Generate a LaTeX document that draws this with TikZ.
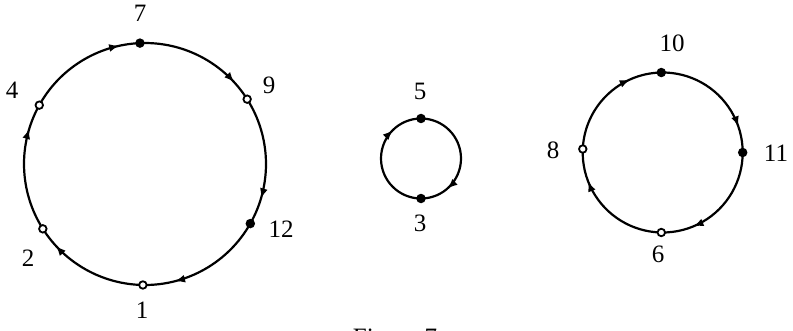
\documentclass[tikz,border=0pt]{standalone}
\usepackage{fontspec}
\setmainfont{Liberation Serif}
\usetikzlibrary{arrows.meta,decorations.markings,backgrounds,calc}
\tikzset{
  x=1pt,y=1pt,
  arcline/.style={line width=2.2pt},
  midarrow/.style={postaction={decorate},decoration={markings,
    mark=at position #1 with {\arrow{Latex[length=10pt,width=8pt]}}}},
  fdot/.style={circle,fill=black,inner sep=0pt,minimum size=9.5pt},
  odot/.style={circle,draw=black,fill=white,line width=1.8pt,inner sep=0pt,minimum size=7.5pt},
  lab/.style={font=\fontsize{25}{28}\selectfont,inner sep=0pt}
}
\begin{document}
\begin{tikzpicture}
\useasboundingbox (0,0) rectangle (793,330);
% ---- big circle: centre (145,166), r = 121
\coordinate (cA) at (145,166);
\node[fdot] (n7)  at ($(cA)+(92.4:121)$) {};
\node[odot] (n9)  at ($(cA)+(32.4:121)$) {};
\node[fdot] (n12) at ($(cA)+(-29.5:121)$) {};
\node[odot] (n1)  at ($(cA)+(-91:121)$) {};
\node[odot] (n2)  at ($(cA)+(-147.6:121)$) {};
\node[odot] (n4)  at ($(cA)+(150.9:121)$) {};
\begin{scope}[on background layer]
\draw[arcline,midarrow=0.83]  (n7.center)  arc[start angle=92.4,  end angle=32.4,   radius=121];
\draw[arcline,midarrow=0.79]  (n9.center)  arc[start angle=32.4,  end angle=-29.5,  radius=121];
\draw[arcline,midarrow=0.75]  (n12.center) arc[start angle=-29.5, end angle=-91,    radius=121];
\draw[arcline,midarrow=0.82]  (n1.center)  arc[start angle=-91,   end angle=-147.6, radius=121];
\draw[arcline,midarrow=0.80]  (n2.center)  arc[start angle=-147.6,end angle=-209.1, radius=121];
\draw[arcline,midarrow=0.83]  (n4.center)  arc[start angle=150.9, end angle=92.4,   radius=121];
\end{scope}
\node[lab] (l7)  at (140,317) {7};
\node[lab] (l9)  at (269,245) {9};
\node[lab] (l12) at (281,101) {12};
\node[lab] (l1)  at (142,20)  {1};
\node[lab] (l2)  at (28,72)   {2};
\node[lab] (l4)  at (12,240)  {4};
% ---- small circle: centre (421,171.5), r = 40
\coordinate (cB) at (421,171.5);
\node[fdot] (n5) at ($(cB)+(90:40)$) {};
\node[fdot] (n3) at ($(cB)+(-90:40)$) {};
\begin{scope}[on background layer]
\draw[arcline,midarrow=0.77] (n5.center) arc[start angle=90,  end angle=-90,  radius=40];
\draw[arcline,midarrow=0.75] (n3.center) arc[start angle=-90, end angle=-270, radius=40];
\end{scope}
\node[lab] (l5) at (420,239) {5};
\node[lab] (l3) at (420,107) {3};
% ---- right circle: centre (662.7,177.5), r = 80
\coordinate (cC) at (662.7,177.5);
\node[fdot] (n10) at ($(cC)+(91:80)$) {};
\node[fdot] (n11) at ($(cC)+(0:80)$) {};
\node[odot] (n6)  at ($(cC)+(-91:80)$) {};
\node[odot] (n8)  at ($(cC)+(177.5:80)$) {};
\begin{scope}[on background layer]
\draw[arcline,midarrow=0.79] (n10.center) arc[start angle=91,    end angle=0,      radius=80];
\draw[arcline,midarrow=0.74] (n11.center) arc[start angle=0,     end angle=-91,    radius=80];
\draw[arcline,midarrow=0.74] (n6.center)  arc[start angle=-91,   end angle=-182.5, radius=80];
\draw[arcline,midarrow=0.73] (n8.center)  arc[start angle=177.5, end angle=91,     radius=80];
\end{scope}
\node[lab] (l10) at (672,287) {10};
\node[lab] (l11) at (776,177) {11};
\node[lab] (l6)  at (658,76)  {6};
\node[lab] (l8)  at (553,180) {8};
% ---- caption (cut by the lower edge, as in the reference)
\node[lab,anchor=base] (cap) at (395,-15.5) {Figure 7};
\end{tikzpicture}
\end{document}
